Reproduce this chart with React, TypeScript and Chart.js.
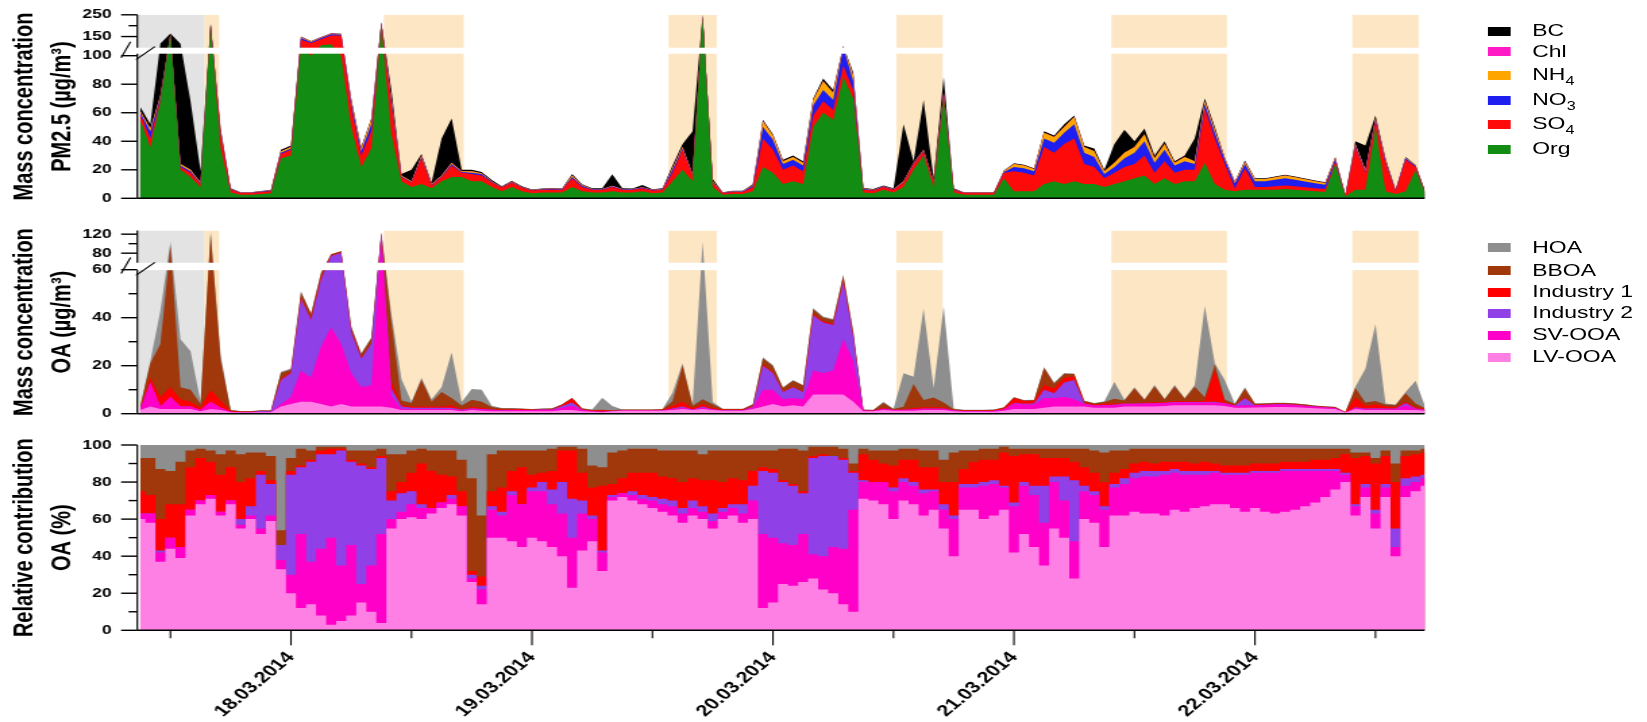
import React, { useEffect, useRef } from 'react';
import { Chart, registerables } from 'chart.js';

Chart.register(...registerables);

// The reference figure is horizontally stretched; we draw at 1220 px and stretch by 1.35.
const STRETCH = 1.35;
const W = 1220;
const FONT = '"Liberation Sans", Arial, Helvetica, sans-serif';
Chart.defaults.font.family = FONT;

// ---------- time axis (hours after 18.03.2014 00:00, hourly samples) ----------
const HOURS: number[] = Array.from({ length: 129 }, (_, i) => i - 15);
const X_MIN = -15.3;
const X_MAX = 112.9;
const X_TICK_HOURS = [-12, 0, 12, 24, 36, 48, 60, 72, 84, 96, 108];
const X_TICK_LABELS = ['', '18.03.2014', '', '19.03.2014', '', '20.03.2014', '', '21.03.2014', '', '22.03.2014', ''];

// shaded periods (hours)
const GREY_BAND = [-15.3, -8.6];
const ORANGE_BANDS = [[-8.6, -7.15], [9.25, 17.2], [37.6, 42.4], [60.3, 64.9], [81.7, 93.2], [105.7, 112.3]];

// ---------- panel 1: PM2.5 composition (µg/m3) ----------
const ORG = [55,36,68,158,20,15,8,200,35,4,2.5,2.5,3,3.5,28,30,
  105,100,110,115,100,50,22,35,200,45,12,8,10,7,12,15,15,12,12,8,5,8,5,3.5,
  4,4,4,8,5,4,4,5,4,4,5,3.5,4,12,20,12,240,8,2.5,3,3,5,22,18,
  10,12,10,50,60,55,85,70,4,3.5,6,4,8,20,30,8,70,4,2.5,2.5,2.5,2.5,14,5,
  5,5,10,12,10,12,10,10,8,10,12,14,16,10,14,10,12,12,25,10,6,5,6,6,
  6,6,6.5,6,5.5,5,4.5,24,1.5,6,6,50,5,3,5,20,2.5];
const SO4 = [4,6,2,2,2,3,2,3,10,2,1.2,1.2,1.5,1.5,3,4,
  30,20,28,40,55,14,8,12,12,21,3,3,18,2,3,8,3,5,4,3,2.5,3,2.5,2,
  2,2.2,2,6,3,2,2,3,2,2,2,2,2,6,14,4,3,3,1.2,1.5,1.5,3,20,16,
  10,11,9,8,8,7,8,6,2,2,2,2,3,4,3,3,3,2,1.2,1.2,1.2,1.2,4,14,
  13,11,26,20,28,30,14,12,6,8,10,10,14,8,12,8,8,8,38,32,18,2,15,2,
  2,2.5,2.5,2.5,2.2,2,2,2,0.5,30,12,4,20,2,22,2,1];
const NO3 = [1,5,1,1,1,1,0.5,1,1,0.3,0.2,0.2,0.2,0.3,1,1,
  8,5,5,5,4,3,3,5,2,2,0.5,0.5,1,0.5,0.5,1,0.5,1,1,0.5,0.3,0.5,0.3,0.2,
  0.3,0.3,0.3,1,0.8,0.3,0.4,0.5,0.3,0.3,0.5,0.3,0.3,2,1,0.5,1,0.5,0.2,0.3,0.3,1,8,7,
  4,4,4,7,8,7,8,6,0.5,0.3,0.3,0.3,0.5,0.5,0.5,0.5,0.5,0.3,0.2,0.2,0.2,0.2,0.5,3,
  3,3,6,7,8,10,8,7,3,4,6,8,10,7,8,5,6,4,3,4,3,3.5,3,4,
  4,4.5,5,4.5,4,3.5,3,1.5,0.2,1,1,1,1,0.3,1,0.5,0.2];
const NH4 = [1,2,1,1,1,1,0.5,1,1,0.2,0.1,0.1,0.2,0.2,1,1,
  4,3,3,3,3,2,2,3,1,2,0.5,0.5,1,0.5,0.5,1,0.5,1,0.5,0.3,0.2,0.3,0.2,0.2,
  0.2,0.2,0.2,1,0.5,0.2,0.2,0.3,0.2,0.2,0.3,0.2,0.2,1,1,0.5,1,0.5,0.1,0.2,0.2,0.5,4,3,
  2,2,2,4,6,5,5,4,0.3,0.2,0.2,0.2,0.5,0.5,0.5,0.5,0.5,0.2,0.1,0.1,0.1,0.1,0.5,2,
  2,1.5,4,4,4,5,4,4,2,3,4,4,5,3,4,2,3,2,2,2,1,1.2,1.5,1.5,
  1.5,1.8,2,1.8,1.6,1.5,1.3,1,0.1,1,1,1,1,0.2,0.5,0.3,0.1];
const CHL = [0,0,0,0,0,0,0,0,0,0,0,0,0,0,0,0,
  1,0,0.5,0.5,0,0,0,0,0,0,0,0,0,0,0,0,0,0,0,0,0,0,0,0,
  0,0,0,0,0,0,0,0,0,0,0,0,0,0,0,0,0,0,0,0,0,0,0,0,
  0,0,0,0,0,0,0,0,0,0,0,0,0,0,0,0,0,0,0,0,0,0,0,0,
  0,0,0,0,0,0,0,0,0,0,0,0,0,0,0,0,0,0,0,0,0,0,0,0,
  0,0,0,0,0,0,0,0,0,0,0,0,0,0,0,0,0];
const BC = [3,3,46,2,93,48,8,4,2,0.5,0.3,0.3,0.3,0.3,1,1,
  2,1,1,2,1,1,1,1,2,6,1,8,1,1,26,31,1,1,1,1,0.5,0.5,0.5,0.3,
  0.3,0.3,0.3,1,0.5,0.5,0.5,8,0.5,0.4,1.5,0.4,0.5,2,2,30,5,1.5,0.3,0.3,0.3,0.5,1,1,
  1,1,1,1,2,2,2,2,0.5,0.5,0.5,0.5,40,1,35,2,11,0.5,0.2,0.2,0.2,0.2,0.5,0.5,
  0.5,0.5,1,1,2,1,1,2,1,13,16,4,4,2,2,1,1,16,2,2,0.5,0.3,1,0.5,
  0.5,0.5,0.5,0.5,0.5,0.5,0.4,0.5,0.2,2,17,2,1,0.5,0.5,0.5,0.2];

// ---------- panel 2: OA factors (µg/m3) ----------
const LV_OA = [1.5,3,2,2,2,2,1,2,1.5,0.6,0.5,0.5,0.6,0.6,3,4,
  5,5,4,3,4,3,3,3,3,2.5,1.5,1.5,1.5,1.5,1.5,1.5,1,1.5,1.2,1,1,1,1,1,
  1,1,1.5,1.5,1,0.8,0.6,1,1.2,1.2,1.2,1.2,1.2,1.5,2,1.5,2,1.5,1.2,1.2,1.2,2,3,4,
  3,3.5,3,8,8,8,8,5,1,1,1.5,1.2,1.2,1.2,1.5,1.5,1.5,1,0.8,0.8,0.8,0.8,1.2,2,
  2,2,2.5,3,3,3,3,2.5,2.5,2.5,3,3,3,3,3.2,3.5,3.5,3.5,3.5,3.5,3.2,2.5,2.5,2.6,
  2.7,2.8,2.8,2.7,2.5,2.3,2.1,2,0.5,2,1.5,1.5,1.5,1.5,1.5,1.5,1.2];
const SV_OA = [0.5,10,1,5,1,1,0.5,3,1,0.2,0.1,0.1,0.1,0.1,1,3,
  13,10,24,33,25,14,8,9,110,5,0.5,0.5,0.5,0.5,0.5,0.5,0.3,0.5,0.5,0.5,0.3,0.5,0.5,0.5,
  0.6,0.5,1,1.8,0.5,0.2,0.2,0.1,0.1,0.1,0.1,0.1,0.1,0.5,0.5,0.2,0.5,0.2,0.1,0.1,0.1,0.5,7,6,
  3,3,3,10,9,10,23,17,0.2,0.2,0.5,0.3,0.3,0.5,0.5,0.5,0.5,0.3,0.2,0.2,0.2,0.3,0.6,2.2,
  1.8,1.8,4,3.5,4,3,1,0.8,1,1,1,1,1.2,1.2,1.2,1.2,1.2,1.2,1.2,1.2,1,0.8,1,0.8,
  0.9,1,1,0.9,0.7,0.6,0.5,0.3,0.05,0.5,0.5,0.5,0.5,0.5,2,0.5,0.3];
const IND2_OA = [0,0,0,0,0,0,0,0,0,0,0,0.1,0.4,0.3,10,10,
  30,24,28,38,52,17,12,17,8,3,1,0.5,0.5,0.5,0.5,0.5,0.3,0.3,0.3,0.2,0.1,0.1,0,0,
  0.1,0.2,0.7,1.4,0.1,0,0,0,0,0,0,0,0.1,0.2,0.5,0.1,0.5,0.2,0.1,0.1,0.1,0.5,10,7,
  3,4.5,3,23,21,19,24,10,0.1,0,0.2,0.1,0.1,0.2,0.2,0.2,0.2,0.1,0.1,0.1,0.1,0.1,0.1,0.3,
  0.3,0.4,3.5,2,6,8,0.3,0.1,0.1,0.2,0.2,0.2,0.2,0.2,0.2,0.2,0.2,0.2,0.2,0.3,0.2,0.1,3,0.1,
  0.1,0.1,0.1,0.1,0.1,0.05,0.05,0.05,0,0.2,0.2,0.3,0.2,0.2,1,0.2,0.1];
const IND1_OA = [0.5,2,4,4,3,2,1,5,3,0.3,0.2,0.1,0.1,0.1,0.5,0.3,
  0.5,0.5,1,1.5,1,0.5,0.3,0.3,0.5,3,0.5,0.5,0.5,0.5,0.5,1,0.3,0.5,0.5,0.3,0.3,0.3,0.4,0.1,
  0.1,0.2,0.5,1.7,0.3,0.3,0.6,0.1,0.1,0.2,0.2,0.2,0.2,1,2,0.5,1,0.5,0.3,0.3,0.3,0.3,0.5,0.3,
  0.2,0.2,0.2,0.5,0.5,0.5,0.5,0.3,0.2,0.2,0.3,0.2,0.3,0.5,0.5,0.5,0.5,0.2,0.2,0.2,0.2,0.2,0.5,2,
  1.2,1.2,2,2,2,1.5,0.5,0.4,0.6,0.5,0.3,0.3,0.3,0.4,0.3,0.4,0.3,0.3,0.5,13,0.5,0.2,0.5,0.2,
  0.2,0.2,0.2,0.2,0.2,0.2,0.2,0.2,0.1,4,1,1.5,0.8,0.5,0.5,0.5,0.3];
const BBOA_OA = [0.6,6,22,85,5,5,1.5,110,17,0.3,0.2,0.2,0.1,0.2,2.5,1,
  2,2,1.5,2,2,1.5,1.5,2,2,25,2,1.5,11,2,6,3,1.5,3,2.5,0.8,0.5,0.3,0.2,0.3,
  0.3,0.3,0.1,0.1,0.3,0.2,0.2,0.2,0.3,0.2,0.2,0.2,0.3,2,15,1,2,1.5,0.3,0.3,0.3,0.5,2.5,2.5,
  1.5,2.5,2.5,2,1.5,1.5,2,1.5,0.1,0.1,2,0.2,1,10,3,4,2,0.3,0.2,0.2,0.2,0.2,0.2,0.3,
  0.2,0.2,7,2,1.5,1,0.5,0.5,0.7,2,1,6,1,6.5,1,6,1,6,1.5,2.5,1,0.4,3.5,0.4,
  0.4,0.4,0.4,0.3,0.3,0.2,0.2,0.2,0.05,4,1.5,1.5,0.8,0.8,3.5,1.5,0.3];
const HOA_OA = [0.3,1,14,8,20,16,1,5,2,0.2,0.1,0.1,0.1,0.1,0.5,0.5,
  0.5,0.5,0.5,0.5,0.5,0.5,0.5,0.5,0.5,3,9,0.5,1,1,2,19,1.5,4.5,5,0.5,0.2,0.2,0.1,0.1,
  0.1,0.1,0.1,0.1,0.1,0.2,5,1.8,0.1,0.1,0.1,0.1,0.1,3.5,1,0.5,98,1,0.1,0.1,0.1,0.2,0.5,0.5,
  0.3,0.3,0.3,0.5,0.5,0.5,0.5,0.7,0.1,0.1,0.5,0.1,14,3,38,4,40,0.3,0.1,0.1,0.1,0.1,0.1,0.2,
  0.2,0.2,0.5,0.5,0.5,0.3,0.2,0.2,0.3,7,0.3,0.5,0.3,0.7,0.3,0.7,0.3,0.8,38,0.5,8,0.1,0.5,0.1,
  0.1,0.1,0.1,0.1,0.1,0.1,0.1,0.1,0.05,0.5,14,32,0.5,0.3,0.5,9.5,0.2];

// ---------- panel 3: relative contribution of OA factors (%) ----------
const LV_PCT = [60,58,37,44,39,62,68,71,62,68,55,60,52,59,33,20,
  12,14,8,3,5,8,15,10,4,55,60,61,60,63,66,68,62,26,14,50,50,48,45,50,
  48,45,40,23,43,48,32,70,72,70,68,66,64,62,58,62,60,55,60,62,58,60,12,15,
  25,24,26,28,22,20,14,10,71,70,68,60,70,68,62,65,55,40,65,65,60,62,65,42,
  52,45,35,55,50,28,60,58,45,62,62,64,63,63,62,65,64,66,67,68,68,66,64,66,
  64,63,64,65,67,69,72,76,80,62,72,55,72,40,72,75,78];
const SV_PCT = [3,5,5,6,6,3,2,2,2,2,2,2,3,3,5,10,
  40,23,36,47,30,38,10,25,48,5,4,7,6,3,3,3,5,2,8,15,12,25,23,25,
  27,23,23,27,20,12,10,2,2,3,3,4,4,5,5,4,4,4,4,4,5,10,40,35,
  22,22,26,13,18,25,30,55,9,10,12,15,10,10,12,10,10,20,12,12,18,17,12,25,
  26,28,23,25,20,20,15,15,20,15,17,18,20,20,22,20,20,18,17,17,16,18,20,19,
  21,22,22,21,19,17,14,10,4,5,5,8,5,5,6,5,4];
const IND2_PCT = [0,0,1,0,0,0,0,0,0,0,3,5,29,17,8,54,
  36,54,51,45,62,45,64,52,41,10,10,7,2,0,0,2,0,2,2,2,2,2,0,2,
  5,8,17,21,7,2,1,1,0,2,2,2,3,3,3,4,3,4,2,2,5,8,34,35,
  33,32,22,52,54,49,48,20,1,0,0,2,2,2,2,1,3,2,2,2,2,2,1,2,
  2,5,20,3,13,33,3,2,2,2,3,3,3,3,2,2,2,2,2,1,1,1,1,1,
  1,1,1,1,1,1,1,1,1,1,2,2,2,10,4,3,2];
const IND1_PCT = [12,10,17,18,23,23,23,18,20,18,20,15,2,2,0,2,
  1,1,2,3,1,1,1,1,1,5,6,10,22,20,15,10,8,2,5,8,13,11,20,7,
  5,10,17,26,15,15,35,6,8,10,12,13,12,12,14,12,14,18,14,14,13,8,2,2,
  1,1,1,1,1,0,1,1,14,12,10,12,10,12,12,12,12,18,8,12,12,11,18,25,
  15,17,15,10,10,10,10,10,13,6,5,5,5,4,5,4,5,4,5,4,4,4,4,4,
  4,4,4,4,4,5,5,6,10,25,15,25,15,25,12,12,12];
const BBOA_PCT = [18,20,27,18,23,9,5,6,11,9,15,14,10,13,8,7,
  9,5,2,1,1,5,7,9,4,20,15,12,8,11,13,14,17,50,33,20,20,11,9,13,
  12,12,2,2,13,12,10,17,15,13,13,13,14,15,17,15,14,16,17,15,16,11,9,10,
  17,19,22,5,4,5,5,4,3,5,7,8,6,6,9,9,12,16,10,6,6,6,3,4,
  3,3,5,5,5,7,10,12,16,12,10,8,7,8,7,7,7,8,7,8,9,9,9,8,
  8,8,7,7,7,6,6,5,3,3,2,3,3,10,3,2,2];
const HOA_PCT = [7,7,13,14,9,3,2,3,5,3,5,4,4,6,46,7,
  2,3,1,1,1,3,3,3,2,5,5,3,2,3,3,3,8,18,38,5,3,3,3,3,
  3,2,1,1,2,11,12,4,3,2,2,2,3,3,3,3,5,3,3,3,3,3,3,3,
  2,2,3,1,1,1,2,10,2,3,3,3,2,2,3,3,8,4,3,3,2,2,1,2,
  2,2,2,2,2,2,2,3,4,3,3,2,2,2,2,2,2,2,2,2,2,2,2,2,
  2,2,2,2,2,2,2,2,2,4,4,7,3,10,3,3,2];

// ---------- axis ticks ----------
const P1_TICKS = [0, 20, 40, 60, 80, 100, 150, 250];
const P1_MINOR = [200];
const P2_TICKS = [0, 20, 40, 60, 80, 120];
const P2_MINOR = [10, 30, 50, 100];
const P3_TICKS = [0, 20, 40, 60, 80, 100];
const P3_MINOR = [10, 30, 50, 70, 90];

// ---------- colours ----------
const COL = {
  BC: '#000000', CHL: '#FF1AC6', NH4: '#FFA500', NO3: '#1E1EF0', SO4: '#FF0A0A', ORG: '#128C12',
  HOA: '#8E8E8E', BBOA: '#A0380C', IND1: '#FF0000', IND2: '#8F40E6', SV: '#FF00C8', LV: '#FF80E4',
};
const GREY_COLOR = '#E3E3E3';
const ORANGE_COLOR = '#FCE6C4';

// broken-axis mappings (value -> drawing coordinate)
const brk1 = (v: number) => (v <= 100 ? v : 105.8 + (v - 100) * 0.1525);
const brk2 = (v: number) => (v <= 60 ? v : 62.92 + (v - 60) * 0.198);
const ident = (v: number) => v;

const PLOT_LEFT = 101.7;
const PLOT_RIGHT = 1055.3;

interface Panel {
  top: number; height: number; areaTop: number; areaBottom: number; ymax: number;
  transform: (v: number) => number; ticks: number[]; minor: number[]; title: string[];
  bands: boolean; gap: [number, number] | null; showX: boolean; normalize: boolean; stepped: boolean;
  series: number[][]; colors: string[]; names: string[];
}

const PANELS: Panel[] = [
  {
    top: 0, height: 215, areaTop: 14.3, areaBottom: 198.3, ymax: brk1(250), transform: brk1,
    ticks: P1_TICKS, minor: P1_MINOR, title: ['Mass concentration', 'PM2.5 (µg/m³)'],
    bands: true, gap: [101.4, 105.6], showX: false, normalize: false, stepped: false,
    series: [ORG, SO4, NO3, NH4, CHL, BC],
    colors: [COL.ORG, COL.SO4, COL.NO3, COL.NH4, COL.CHL, COL.BC],
    names: ['Org', 'SO4', 'NO3', 'NH4', 'Chl', 'BC'],
  },
  {
    top: 215, height: 215, areaTop: 15.5, areaBottom: 198.7, ymax: 76.33, transform: brk2,
    ticks: P2_TICKS, minor: P2_MINOR, title: ['Mass concentration', 'OA (µg/m³)'],
    bands: true, gap: [59.8, 62.9], showX: false, normalize: false, stepped: false,
    series: [LV_OA, SV_OA, IND2_OA, IND1_OA, BBOA_OA, HOA_OA],
    colors: [COL.LV, COL.SV, COL.IND2, COL.IND1, COL.BBOA, COL.HOA],
    names: ['LV-OOA', 'SV-OOA', 'Industry 2', 'Industry 1', 'BBOA', 'HOA'],
  },
  {
    top: 430, height: 292, areaTop: 15, areaBottom: 200.3, ymax: 100, transform: ident,
    ticks: P3_TICKS, minor: P3_MINOR, title: ['Relative contribution', 'OA (%)'],
    bands: false, gap: null, showX: true, normalize: true, stepped: true,
    series: [LV_PCT, SV_PCT, IND2_PCT, IND1_PCT, BBOA_PCT, HOA_PCT],
    colors: [COL.LV, COL.SV, COL.IND2, COL.IND1, COL.BBOA, COL.HOA],
    names: ['LV-OOA', 'SV-OOA', 'Industry 2', 'Industry 1', 'BBOA', 'HOA'],
  },
];

function line(ctx: CanvasRenderingContext2D, x0: number, y0: number, x1: number, y1: number) {
  ctx.beginPath();
  ctx.moveTo(x0, y0);
  ctx.lineTo(x1, y1);
  ctx.stroke();
}

function decorPlugin(p: Panel) {
  return {
    id: 'decor',
    beforeDatasetsDraw(chart: any) {
      if (!p.bands) return;
      const { ctx, chartArea: a, scales } = chart;
      const x = scales.x;
      ctx.save();
      ctx.beginPath();
      ctx.rect(a.left, a.top, a.right - a.left, a.bottom - a.top);
      ctx.clip();
      const band = (b: number[], color: string) => {
        const x0 = x.getPixelForValue(b[0]);
        const x1 = x.getPixelForValue(b[1]);
        ctx.fillStyle = color;
        ctx.fillRect(x0, a.top, x1 - x0, a.bottom - a.top);
      };
      band(GREY_BAND, GREY_COLOR);
      ORANGE_BANDS.forEach((b) => band(b, ORANGE_COLOR));
      ctx.restore();
    },
    afterDatasetsDraw(chart: any) {
      const { ctx, chartArea: a, scales } = chart;
      const x = scales.x;
      const y = scales.y;
      ctx.save();
      ctx.strokeStyle = '#000';
      ctx.lineWidth = 1.2;
      line(ctx, a.left, a.top, a.left, a.bottom);
      ctx.lineWidth = 1.6;
      line(ctx, a.left, a.bottom, a.right, a.bottom);
      if (p.gap) {
        const y0 = y.getPixelForValue(p.gap[1]);
        const y1 = y.getPixelForValue(p.gap[0]);
        ctx.fillStyle = '#fff';
        ctx.fillRect(a.left - 1, y0, a.right - a.left + 1, y1 - y0);
        const yc = (y0 + y1) / 2;
        ctx.lineWidth = 1.1;
        line(ctx, a.left - 12, yc + 7, a.left - 5, yc - 9);
        line(ctx, a.left - 1, yc + 9, a.left + 13, yc - 4);
      }
      ctx.lineWidth = 1.4;
      p.ticks.forEach((v) => {
        const py = y.getPixelForValue(p.transform(v));
        line(ctx, a.left - 12, py, a.left, py);
      });
      p.minor.forEach((v) => {
        const py = y.getPixelForValue(p.transform(v));
        line(ctx, a.left - 6.5, py, a.left, py);
      });
      if (p.showX) {
        ctx.lineWidth = 1.1;
        X_TICK_HOURS.forEach((h, i) => {
          const px = x.getPixelForValue(h);
          const len = X_TICK_LABELS[i] ? 15 : 8;
          line(ctx, px, a.bottom, px, a.bottom + len);
        });
      }
      ctx.restore();
    },
  };
}

function buildConfig(p: Panel): any {
  const n = HOURS.length;
  const cum = p.series.map(() => new Array(n).fill(0));
  for (let i = 0; i < n; i++) {
    let total = 0;
    p.series.forEach((s) => { total += s[i] || 0; });
    let acc = 0;
    p.series.forEach((s, k) => {
      const v = s[i] || 0;
      acc += p.normalize ? (total > 0 ? (v / total) * 100 : 0) : v;
      cum[k][i] = acc;
    });
  }
  const datasets = p.series.map((_, k) => ({
    label: p.names[k],
    data: HOURS.map((h, i) => ({ x: h, y: p.transform(cum[k][i]) })),
    backgroundColor: p.colors[k],
    borderColor: 'rgba(0,0,0,0)',
    borderWidth: 0,
    pointRadius: 0,
    tension: 0,
    stepped: p.stepped ? 'middle' : false,
    fill: 'origin',
  }));
  const tickFont = { family: FONT, size: 13, weight: 'bold' as const };
  return {
    type: 'line',
    data: { datasets },
    plugins: [decorPlugin(p)],
    options: {
      responsive: false,
      maintainAspectRatio: false,
      animation: false,
      events: [],
      layout: { padding: { top: p.areaTop, right: W - PLOT_RIGHT, bottom: 0, left: 0 } },
      plugins: { legend: { display: false }, tooltip: { enabled: false } },
      scales: {
        x: {
          type: 'linear',
          min: X_MIN,
          max: X_MAX,
          bounds: 'data',
          afterBuildTicks: (s: any) => { s.ticks = X_TICK_HOURS.map((v) => ({ value: v })); },
          afterFit: (s: any) => { s.height = p.height - p.areaBottom; },
          grid: { display: false, drawTicks: true, tickLength: 15 },
          border: { display: false },
          ticks: {
            display: p.showX,
            autoSkip: false,
            minRotation: 48,
            maxRotation: 48,
            padding: 3,
            color: '#000',
            font: { family: FONT, size: 16, weight: 'bold' },
            callback: (_v: any, i: number) => X_TICK_LABELS[i],
          },
        },
        y: {
          type: 'linear',
          min: 0,
          max: p.ymax,
          bounds: 'data',
          afterBuildTicks: (s: any) => { s.ticks = p.ticks.map((v) => ({ value: p.transform(v) })); },
          afterFit: (s: any) => { s.width = PLOT_LEFT; },
          grid: { display: false, drawTicks: true, tickLength: 12 },
          border: { display: false },
          ticks: {
            autoSkip: false,
            padding: 7,
            color: '#000',
            font: tickFont,
            callback: (_v: any, i: number) => String(p.ticks[i]),
          },
          title: {
            display: true,
            text: p.title,
            color: '#000',
            font: { family: FONT, size: 20, weight: 'bold', lineHeight: 1.4 },
            padding: { top: 4, bottom: 0 },
          },
        },
      },
    },
  };
}

const LEGEND_PM = [
  { name: 'BC', sub: '', color: COL.BC },
  { name: 'Chl', sub: '', color: COL.CHL },
  { name: 'NH', sub: '4', color: COL.NH4 },
  { name: 'NO', sub: '3', color: COL.NO3 },
  { name: 'SO', sub: '4', color: COL.SO4 },
  { name: 'Org', sub: '', color: COL.ORG },
];
const LEGEND_OA = [
  { name: 'HOA', sub: '', color: COL.HOA },
  { name: 'BBOA', sub: '', color: COL.BBOA },
  { name: 'Industry 1', sub: '', color: COL.IND1 },
  { name: 'Industry 2', sub: '', color: COL.IND2 },
  { name: 'SV-OOA', sub: '', color: COL.SV },
  { name: 'LV-OOA', sub: '', color: COL.LV },
];
const LEGEND_PM_Y = [31, 51.7, 75.3, 100, 124.3, 149];
const LEGEND_OA_Y = [247.7, 270.7, 292.3, 313.3, 335, 357.3];

function Legend({ items, ys }: { items: typeof LEGEND_PM; ys: number[] }) {
  return (
    <>
      {items.map((it, i) => (
        <React.Fragment key={it.name}>
          <div style={{ position: 'absolute', left: 1102, top: ys[i] - 4.5, width: 17, height: 9, background: it.color }} />
          <div style={{ position: 'absolute', left: 1135, top: ys[i] - 11, height: 22, lineHeight: '22px', fontSize: 17, fontFamily: FONT, color: '#000', whiteSpace: 'nowrap' }}>
            {it.name}
            {it.sub ? <sub style={{ fontSize: 12, verticalAlign: 'baseline', position: 'relative', top: 5 }}>{it.sub}</sub> : null}
          </div>
        </React.Fragment>
      ))}
    </>
  );
}

export default function App() {
  const r0 = useRef<HTMLCanvasElement>(null);
  const r1 = useRef<HTMLCanvasElement>(null);
  const r2 = useRef<HTMLCanvasElement>(null);
  useEffect(() => {
    const refs = [r0, r1, r2];
    const charts = PANELS.map((p, i) => new Chart(refs[i].current as HTMLCanvasElement, buildConfig(p)));
    return () => charts.forEach((c) => c.destroy());
  }, []);
  const refs = [r0, r1, r2];
  return (
    <div style={{ position: 'absolute', left: 0, top: 0, width: W, height: 722, background: '#fff', transform: `scaleX(${STRETCH})`, transformOrigin: '0 0', overflow: 'hidden' }}>
      {PANELS.map((p, i) => (
        <canvas key={i} ref={refs[i]} width={W} height={p.height}
          style={{ position: 'absolute', left: 0, top: p.top, width: W, height: p.height }} />
      ))}
      <Legend items={LEGEND_PM} ys={LEGEND_PM_Y} />
      <Legend items={LEGEND_OA} ys={LEGEND_OA_Y} />
    </div>
  );
}
